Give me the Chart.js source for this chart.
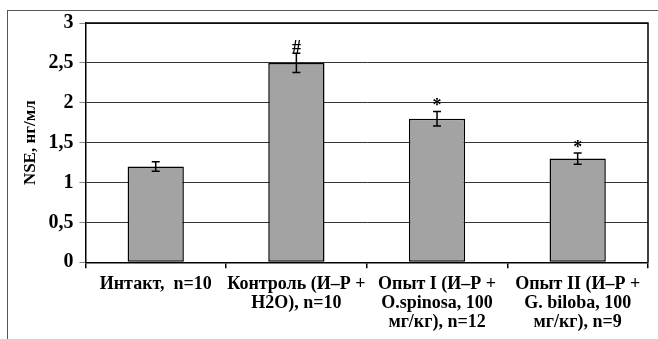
<!DOCTYPE html>
<html>
<head>
<meta charset="utf-8">
<script src="https://cdn.jsdelivr.net/npm/chart.js@4"></script>
<style>
  body { margin: 0; background: #fff; }
  #wrap { position: relative; width: 658px; height: 339px; }
  #frame { position: absolute; left: 7px; top: 10px; right: 0; bottom: -5px;
           border-top: 1px solid #555; border-left: 1px solid #555; }
  canvas { position: absolute; left: 0; top: 0; }
</style>
</head>
<body>
<div id="wrap">
  <div id="frame"></div>
  <canvas id="grafico" width="658" height="339"></canvas>
</div>
<script>
// === DATOS ===
const categorias = [
  ['Интакт,  n=10'],
  ['Контроль (И–Р +', 'H2O), n=10'],
  ['Опыт I (И–Р +', 'O.spinosa, 100', 'мг/кг), n=12'],
  ['Опыт II (И–Р +', 'G. biloba, 100', 'мг/кг), n=9']
];
const valores = [1.2, 2.5, 1.8, 1.3];
const errores = [0.06, 0.12, 0.09, 0.07];
const marcas = ['', '#', '*', '*'];
const ticksY = ['0', '0,5', '1', '1,5', '2', '2,5', '3'];

const fuente = '"Liberation Serif", "Times New Roman", serif';

// === BARRAS DE ERROR Y MARCAS ===
const pluginErrores = {
  id: 'errores',
  afterDatasetsDraw(chart) {
    const ctx = chart.ctx;
    const x = chart.scales.x, y = chart.scales.y;
    ctx.save();
    ctx.strokeStyle = '#000';
    ctx.lineWidth = 1.5;
    ctx.fillStyle = '#000';
    ctx.font = 'bold 18px ' + fuente;
    ctx.textAlign = 'center';
    ctx.textBaseline = 'bottom';
    valores.forEach((v, i) => {
      const cx = x.getPixelForValue(i);
      const top = y.getPixelForValue(v + errores[i]);
      const bot = y.getPixelForValue(v - errores[i]);
      ctx.beginPath();
      ctx.moveTo(cx, top); ctx.lineTo(cx, bot);
      ctx.moveTo(cx - 4, top); ctx.lineTo(cx + 4, top);
      ctx.moveTo(cx - 4, bot); ctx.lineTo(cx + 4, bot);
      ctx.stroke();
      if (marcas[i]) ctx.fillText(marcas[i], cx, top + 4);
    });
    ctx.restore();
  }
};

// === BORDE DEL AREA ===
const pluginBorde = {
  id: 'borde',
  afterDraw(chart) {
    const a = chart.chartArea, ctx = chart.ctx;
    ctx.save();
    ctx.strokeStyle = '#000';
    ctx.lineWidth = 1.5;
    ctx.beginPath();
    ctx.moveTo(a.left, a.top); ctx.lineTo(a.right, a.top); ctx.lineTo(a.right, a.bottom);
    ctx.stroke();
    ctx.restore();
  }
};

new Chart(document.getElementById('grafico'), {
  type: 'bar',
  data: {
    labels: categorias,
    datasets: [{
      data: valores,
      backgroundColor: '#a3a3a3',
      borderColor: '#000',
      borderWidth: 1.5,
      borderSkipped: false,
      categoryPercentage: 1,
      barPercentage: 0.4
    }]
  },
  options: {
    responsive: false,
    animation: false,
    layout: { padding: { top: 23, right: 10, left: 18, bottom: 0 } },
    plugins: { legend: { display: false }, tooltip: { enabled: false } },
    scales: {
      y: {
        min: 0, max: 3,
        ticks: {
          stepSize: 0.5,
          color: '#000',
          padding: 6,
          font: { family: fuente, size: 20, weight: 'bold' },
          callback: (v, i) => ticksY[i]
        },
        grid: { color: '#333', lineWidth: 1, tickLength: 6, tickColor: '#888' },
        border: { color: '#000', width: 1.5 },
        title: {
          display: true, text: 'NSE, нг/мл', color: '#000',
          font: { family: fuente, size: 17, weight: 'bold' }, padding: 2
        }
      },
      x: {
        ticks: {
          color: '#000', padding: 7, autoSkip: false,
          font: { family: fuente, size: 18, weight: 'bold', lineHeight: 1.05 },
          maxRotation: 0
        },
        grid: { offset: true, drawOnChartArea: false, tickLength: 6, tickColor: '#000', lineWidth: 1.5 },
        border: { color: '#000', width: 1.5 }
      }
    }
  },
  plugins: [pluginErrores, pluginBorde]
});
</script>
</body>
</html>
